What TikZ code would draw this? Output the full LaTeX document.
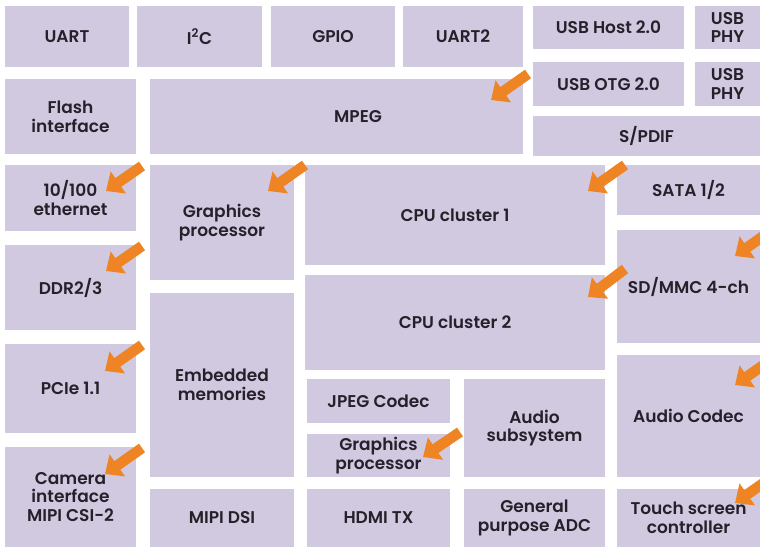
\documentclass[tikz,border=0pt]{standalone}
\usepackage{fontspec}
\setmainfont{Poppins}[UprightFont={* SemiBold}]
\usetikzlibrary{arrows.meta}
\definecolor{blockfill}{HTML}{D1C9E0}
\definecolor{pointer}{HTML}{EE8424}
\definecolor{ink}{HTML}{25212A}
% block: name, x1, y1, x2, y2, text  (pixel-like units, y downward)
\newcommand\blk[6]{%
  \node[blk,minimum width=#4pt-#2pt,minimum height=#5pt-#3pt]
    (#1) at ({(#2+#4)/2},{(#3+#5)/2}) {#6};}
\begin{document}
\begin{tikzpicture}[x=1pt,y=-1pt,
  blk/.style={fill=blockfill,draw=none,inner sep=0pt,align=center,
    text=ink,font=\fontsize{17}{18.8}\selectfont},
  pointerarrow/.style={draw=pointer,line width=10.5pt,
    -{Triangle[width=26pt,length=15pt]}}]
\useasboundingbox (0,0) rectangle (760,547);
\clip (0,0) rectangle (760,547);
\fill[white] (0,0) rectangle (760,547);

% top row
\blk{uart}{5}{6}{129}{67}{UART}
\blk{iic}{137}{6}{262}{67}{I\textsuperscript{2}C}
\blk{gpio}{271}{6}{395}{67}{GPIO}
\blk{uarttwo}{403}{6}{523}{67}{UART2}
\blk{usbhost}{533}{6}{684}{49}{USB Host 2.0}
\blk{phyA}{695}{6}{760}{49}{USB\\PHY}
\blk{usbotg}{533}{62}{684}{106}{USB OTG 2.0}
\blk{phyB}{695}{62}{760}{106}{USB\\PHY}
\blk{spdif}{533}{116}{760}{156}{S/PDIF}

% second band
\blk{flash}{5}{79}{136}{154}{Flash\\interface}
\blk{mpeg}{150}{79}{523}{154}{}
\node[blk,fill=none] (mpegtxt) at (358,117) {MPEG};

% left column
\blk{eth}{5}{165}{136}{231}{10/100\\ethernet}
\blk{ddr}{5}{245}{136}{330}{DDR2/3}
\blk{pcie}{5}{344}{136}{433}{PCIe 1.1}
\blk{cam}{5}{447}{136}{547}{Camera\\interface\\MIPI CSI-2}

% second column
\blk{gfxA}{150}{165}{294}{280}{Graphics\\processor}
\blk{emb}{150}{293}{294}{477}{Embedded\\memories}
\blk{dsi}{150}{489}{294}{547}{MIPI DSI}

% centre
\blk{cpuA}{305}{165}{605}{265}{CPU cluster 1}
\blk{cpuB}{305}{275}{605}{370}{CPU cluster 2}
\blk{jpeg}{307}{379}{450}{423}{JPEG Codec}
\blk{gfxB}{307}{434}{450}{477}{Graphics\\processor}
\blk{audsub}{464}{379}{605}{477}{Audio\\subsystem}
\blk{hdmi}{307}{489}{450}{547}{HDMI TX}
\blk{adc}{464}{489}{605}{547}{General\\purpose ADC}

% right column
\blk{sata}{617}{165}{760}{215}{SATA 1/2}
\blk{sdmmc}{617}{230}{760}{343}{SD/MMC 4-ch}
\blk{acodec}{617}{355}{760}{477}{Audio Codec}
\blk{touch}{617}{489}{760}{547}{Touch screen\\controller}

% orange pointers
\coordinate (p1s) at (528,74);  \coordinate (p1e) at (491,100);
\coordinate (p2s) at (142,166); \coordinate (p2e) at (106,191);
\coordinate (p3s) at (305,165); \coordinate (p3e) at (268,191);
\coordinate (p4s) at (142,246); \coordinate (p4e) at (106,271);
\coordinate (p5s) at (625,165); \coordinate (p5e) at (588,191);
\coordinate (p6s) at (772,230); \coordinate (p6e) at (735,256);
\coordinate (p7s) at (625,269); \coordinate (p7e) at (588,297);
\coordinate (p8s) at (142,345); \coordinate (p8e) at (105,371);
\coordinate (p9s) at (142,448); \coordinate (p9e) at (105,474);
\coordinate (p10s) at (460,432); \coordinate (p10e) at (423,457);
\coordinate (p11s) at (772,359); \coordinate (p11e) at (735,385);
\coordinate (p12s) at (772,477); \coordinate (p12e) at (735,503);
\foreach \i in {1,...,12}{\draw[pointerarrow] (p\i s) -- (p\i e);}
\end{tikzpicture}
\end{document}
